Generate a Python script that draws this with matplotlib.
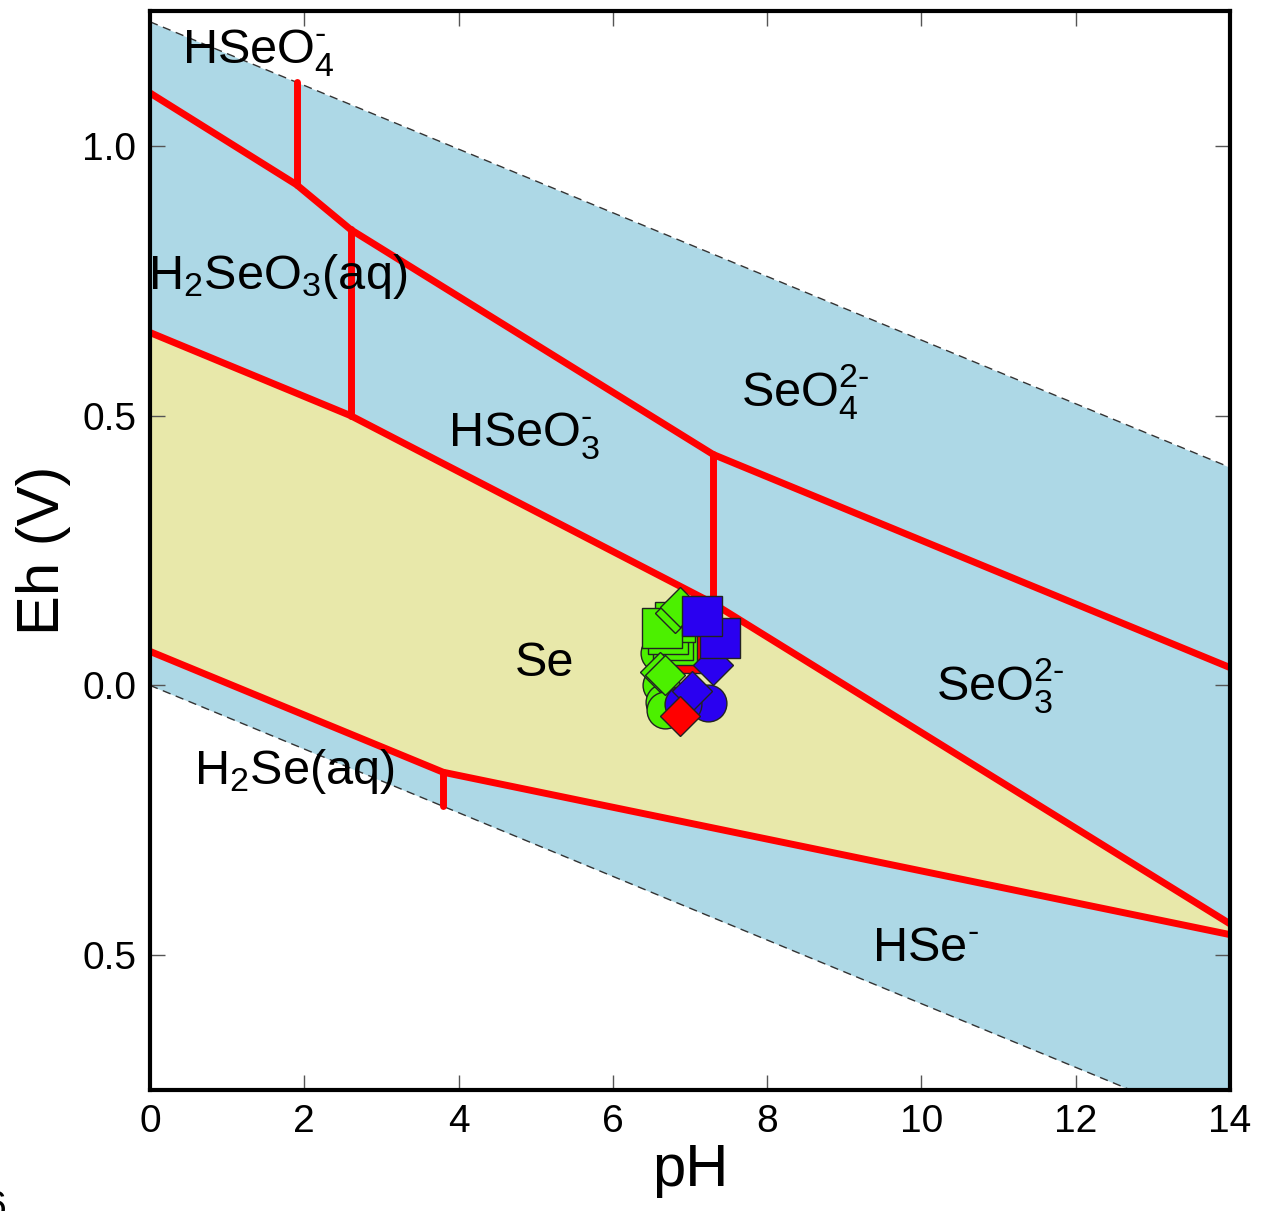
import matplotlib
matplotlib.use("Agg")
import matplotlib.pyplot as plt
import numpy as np

plt.rcParams['font.family'] = ['Liberation Sans', 'DejaVu Sans']
plt.rcParams['mathtext.fontset'] = 'custom'
plt.rcParams['mathtext.rm'] = 'Liberation Sans'
plt.rcParams['mathtext.it'] = 'Liberation Sans'
plt.rcParams['mathtext.default'] = 'regular'

# ---------------- data ----------------
ph_range = [0, 14]
water_upper_eh = [1.23, 0.404]      # O2/H2O line
water_lower_eh = [0.0, -0.826]      # H2O/H2 line

# Se(0) stability field boundaries
se_upper_ph = [0, 2.6, 7.3, 14]
se_upper_eh = [0.654, 0.500, 0.152, -0.442]
se_lower_ph = [0, 3.8, 14]
se_lower_eh = [0.063, -0.161, -0.462]

# Se(VI)/Se(IV) boundary
ox_ph = [0, 1.9, 2.6, 7.3, 14]
ox_eh = [1.098, 0.928, 0.845, 0.428, 0.033]

# vertical (acid-base) boundaries: pH, Eh bottom, Eh top
vert_ph = [1.9, 2.6, 7.3, 3.8]
vert_eh_lo = [0.928, 0.500, 0.152, -0.224]
vert_eh_hi = [1.118, 0.845, 0.428, -0.161]

# species labels
label_text = [r'$HSeO_4^{\text{-}}$', r'$H_2SeO_3(aq)$', r'$SeO_4^{2\text{-}}$',
              r'$HSeO_3^{\text{-}}$', 'Se', r'$SeO_3^{2\text{-}}$', r'$H_2Se(aq)$',
              r'$HSe^{\text{-}}$']
label_ph = [1.40, 1.66, 8.49, 4.85, 5.12, 11.02, 1.87, 10.05]
label_eh = [1.153, 0.734, 0.517, 0.443, 0.017, -0.028, -0.182, -0.510]

# sample points (drawn in this order)
pt_ph = [6.92, 6.60, 6.62, 6.66, 6.68, 6.83, 6.78, 6.72, 6.81, 6.64,
         6.80, 6.87, 6.61, 6.68, 7.23, 6.91, 7.30, 7.03, 7.39, 7.15, 6.87]
pt_eh = [0.060, 0.060, 0.000, -0.030, -0.045, 0.075, 0.085, 0.095, 0.118, 0.107,
         0.135, 0.145, 0.024, 0.020, -0.033, -0.035, 0.037, -0.011, 0.087, 0.128, -0.057]
pt_color = ['red'] + ['green'] * 13 + ['blue'] * 6 + ['red']
pt_marker = ['s', 'o', 'o', 'o', 'o', 's', 's', 's', 's', 's',
             'D', 'D', 'D', 'D', 'o', 'o', 'D', 'D', 's', 's', 'D']

color_map = {'red': '#ff0000', 'green': '#4cf000', 'blue': '#2a00f0'}
size_map = {'s': 29.5, 'o': 26.5, 'D': 20}

yticks = [-0.5, 0.0, 0.5, 1.0]
ytick_labels = ['0.5', '0.0', '0.5', '1.0']
xticks = [0, 2, 4, 6, 8, 10, 12, 14]

# ---------------- figure ----------------
fig = plt.figure(figsize=(12.66, 12.11), dpi=100)
ax = fig.add_axes([150 / 1266, 1 - 1090 / 1211, 1080 / 1266, 1079 / 1211])

# water stability field
ax.fill_between(ph_range, water_lower_eh, water_upper_eh, color='#add8e6', lw=0, zorder=1)
ax.plot(ph_range, water_upper_eh, ls=(0, (6, 4)), color='#333333', lw=1, zorder=2)
ax.plot(ph_range, water_lower_eh, ls=(0, (6, 4)), color='#333333', lw=1, zorder=2)

# Se field
grid = np.union1d(se_upper_ph, se_lower_ph)
up = np.interp(grid, se_upper_ph, se_upper_eh)
lo = np.interp(grid, se_lower_ph, se_lower_eh)
ax.fill_between(grid, lo, up, color='#e8e8aa', lw=0, zorder=1.5)

red_kw = dict(color='#ff0000', lw=5, solid_capstyle='round', solid_joinstyle='round', zorder=3)
ax.plot(se_upper_ph, se_upper_eh, **red_kw)
ax.plot(se_lower_ph, se_lower_eh, **red_kw)
ax.plot(ox_ph, ox_eh, **red_kw)
for p, a, b in zip(vert_ph, vert_eh_lo, vert_eh_hi):
    ax.plot([p, p], [a, b], **red_kw)

# sample points
for p, e, c, m in zip(pt_ph, pt_eh, pt_color, pt_marker):
    ax.plot(p, e, marker=m, ms=size_map[m], mfc=color_map[c], mec='#222222',
            mew=1, ls='none', zorder=4)

# labels
for t, p, e in zip(label_text, label_ph, label_eh):
    ax.text(p, e, t, fontsize=35, ha='center', va='baseline', zorder=5)

ax.set_xlim(0, 14)
ax.set_ylim(-0.75, 1.25)
ax.set_xticks(xticks)
ax.set_yticks(yticks)
ax.set_yticklabels(ytick_labels)
ax.tick_params(direction='in', length=11, width=1, color='#555555', labelsize=28,
               top=True, right=True, pad=10)
for s in ax.spines.values():
    s.set_linewidth(3)
    s.set_zorder(6)
ax.set_xlabel('pH', fontsize=43, labelpad=2)
ax.set_ylabel('Eh (V)', fontsize=43, labelpad=8)

fig.text(7 / 1266, 1 - 1190 / 1211, '6', fontsize=28, ha='right', va='top')

fig.savefig('out.png', dpi=100)
